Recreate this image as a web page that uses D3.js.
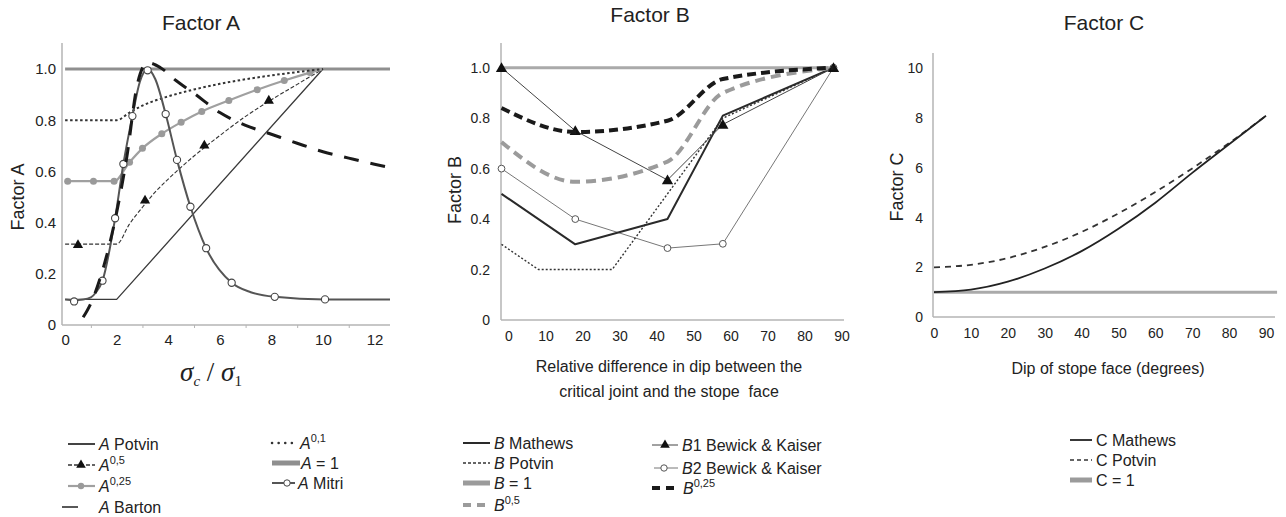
<!DOCTYPE html>
<html><head><meta charset="utf-8">
<script src="https://cdn.jsdelivr.net/npm/d3@7"></script>
<style>
body{margin:0;background:#fff;}
text{font-family:"Liberation Sans",Arial,sans-serif;fill:#222;}
</style></head>
<body>
<script>
// ---------------- DATA ----------------
// Panel A
const aTicks = [0, 2, 4, 6, 8, 10, 12];
const aMinorTicks = [1, 3, 5, 7, 9, 11];
const aYTicks = [0, 0.2, 0.4, 0.6, 0.8, 1.0];
const aPotvinX = [0, 2, 10];
const aPotvinY = [0.1, 0.1, 1.0];
const aPow05X = [0, 2, 2.5, 3, 3.5, 4, 5, 6, 7, 8, 9, 10];
const aPow05Y = [0.316, 0.316, 0.395, 0.46, 0.52, 0.57, 0.66, 0.74, 0.815, 0.88, 0.94, 1.0];
const aPow05MarkX = [0.5, 3.1, 5.4, 7.9];
const aPow05MarkY = [0.316, 0.49, 0.705, 0.88];
const aPow025X = [0, 1.1, 1.9, 2.5, 3.0, 3.75, 4.5, 5.3, 6.35, 7.45, 8.5, 9.5, 10];
const aPow025Y = [0.562, 0.562, 0.562, 0.636, 0.69, 0.747, 0.792, 0.834, 0.877, 0.919, 0.955, 0.986, 1.0];
const aPow025MarkX = [0.1, 1.1, 1.9, 2.5, 3.0, 3.75, 4.5, 5.3, 6.35, 7.45, 8.5, 9.5];
const aPow01X = [0, 2, 2.5, 3, 4, 5, 6, 7, 8, 9, 10];
const aPow01Y = [0.8, 0.8, 0.83, 0.857, 0.893, 0.92, 0.942, 0.96, 0.975, 0.988, 1.0];
const aOneX = [0, 12.6];
const aOneY = [1.0, 1.0];
const aMitriX = [0, 0.35, 0.7, 1.0, 1.2, 1.45, 1.94, 2.26, 2.61, 2.9, 3.2, 3.5, 3.9, 4.34, 4.86, 5.47, 6.46, 7.2, 8.13, 10.08, 12.6];
const aMitriY = [0.1, 0.098, 0.1, 0.108, 0.128, 0.173, 0.417, 0.629, 0.816, 0.95, 1.0, 0.96, 0.824, 0.645, 0.462, 0.30, 0.165, 0.128, 0.11, 0.1, 0.1];
const aMitriMarkX = [0.35, 1.45, 1.94, 2.26, 2.61, 3.2, 3.9, 4.34, 4.86, 5.47, 6.46, 8.13, 10.08];
const aMitriMarkY = [0.092, 0.173, 0.417, 0.629, 0.816, 0.995, 0.824, 0.645, 0.462, 0.30, 0.165, 0.11, 0.1];
const aBartonX = [0.7, 1.0, 1.5, 2.0, 2.4, 2.8, 3.2, 3.7, 4.3, 5.0, 6.0, 7.0, 8.0, 9.0, 10, 11, 12, 12.6];
const aBartonY = [0.03, 0.085, 0.23, 0.44, 0.66, 0.94, 1.025, 1.005, 0.955, 0.905, 0.83, 0.78, 0.745, 0.71, 0.677, 0.652, 0.628, 0.615];

// Panel B
const bXTicks = [0, 10, 20, 30, 40, 50, 60, 70, 80, 90];
const bYTicks = [0, 0.2, 0.4, 0.6, 0.8, 1.0];
const bMathewsX = [0, 20, 45, 60, 90];
const bMathewsY = [0.5, 0.3, 0.4, 0.81, 1.0];
const bPotvinX = [0, 10, 30, 60, 90];
const bPotvinY = [0.3, 0.2, 0.2, 0.8, 1.0];
const bOneX = [0, 90];
const bOneY = [1.0, 1.0];
const bB1X = [0, 20, 45, 60, 90];
const bB1Y = [1.0, 0.75, 0.555, 0.775, 1.0];
const bB2X = [0, 20, 45, 60, 90];
const bB2Y = [0.6, 0.4, 0.285, 0.302, 1.0];
const bPow05X = [0, 20, 45, 60, 90];
const bPow05Y = [0.705, 0.548, 0.628, 0.9, 1.0];
const bPow025X = [0, 20, 45, 60, 90];
const bPow025Y = [0.84, 0.745, 0.79, 0.955, 1.0];

// Panel C
const cXTicks = [0, 10, 20, 30, 40, 50, 60, 70, 80, 90];
const cYTicks = [0, 2, 4, 6, 8, 10];
const cDipX = [0, 10, 20, 30, 40, 50, 60, 70, 80, 90];
const cMathewsY = [1.0, 1.1, 1.42, 1.95, 2.65, 3.55, 4.6, 5.8, 6.95, 8.1];
const cPotvinY = [2.0, 2.1, 2.37, 2.82, 3.42, 4.17, 5.03, 5.98, 7.0, 8.1];
const cOneX = [0, 93];
const cOneY = [1.0, 1.0];

// ---------------- DRAW ----------------
const svg = d3.select("body").append("svg").attr("width", 1286).attr("height", 517);
const axisGray = "#b5b5b5";

function pts(xs, ys) { return xs.map((x, i) => [x, ys[i]]); }

function line(g, xs, ys, sx, sy, st, curve) {
  const gen = d3.line().x(d => sx(d[0])).y(d => sy(d[1]));
  if (curve) gen.curve(curve);
  g.append("path").attr("d", gen(pts(xs, ys)))
    .attr("fill", "none")
    .attr("stroke", st.color)
    .attr("stroke-width", st.width)
    .attr("stroke-dasharray", st.dash || null)
    .attr("stroke-linecap", st.cap || "butt")
    .attr("stroke-linejoin", "round");
}
function circles(g, xs, ys, sx, sy, r, fill, stroke, sw) {
  g.selectAll(null).data(pts(xs, ys)).enter().append("circle")
    .attr("cx", d => sx(d[0])).attr("cy", d => sy(d[1])).attr("r", r)
    .attr("fill", fill).attr("stroke", stroke).attr("stroke-width", sw || 1);
}
function triangles(g, xs, ys, sx, sy, size, fill) {
  const sym = d3.symbol().type(d3.symbolTriangle).size(size);
  g.selectAll(null).data(pts(xs, ys)).enter().append("path")
    .attr("d", sym).attr("transform", d => `translate(${sx(d[0])},${sy(d[1]) + 1})`)
    .attr("fill", fill);
}
function frame(g, sx0, sx1, sy0, sy1, xAt, yAt) {
  g.append("line").attr("x1", xAt).attr("x2", xAt).attr("y1", sy0).attr("y2", sy1)
    .attr("stroke", axisGray).attr("stroke-width", 1.5);
  g.append("line").attr("x1", sx0).attr("x2", sx1).attr("y1", yAt).attr("y2", yAt)
    .attr("stroke", axisGray).attr("stroke-width", 1.5);
}
function styleAxis(sel, size) {
  sel.select(".domain").remove();
  sel.selectAll("text").style("font-family", '"Liberation Sans",Arial,sans-serif')
    .style("font-size", size + "px").attr("fill", "#333");
}

// ===== Panel A =====
const gA = svg.append("g");
const xA = d3.scaleLinear().domain([-0.12, 12.6]).range([62, 390]);
const yA = d3.scaleLinear().domain([0, 1]).range([325, 69]);
frame(gA, 62, 390, 43, 325, 62, 325);
gA.append("g").attr("transform", "translate(62,0)")
  .call(d3.axisLeft(yA).tickValues(aYTicks).tickSize(0).tickPadding(6)
    .tickFormat(d => d === 0 ? "0" : d3.format(".1f")(d)))
  .call(s => styleAxis(s, 15));
gA.append("g").attr("transform", "translate(0,325)")
  .call(d3.axisBottom(xA).tickValues(aTicks).tickSize(0).tickPadding(9))
  .call(s => styleAxis(s, 15));
gA.append("g").attr("transform", "translate(0,325)")
  .call(d3.axisBottom(xA).tickValues(aMinorTicks).tickSize(3).tickFormat(""))
  .call(s => { s.select(".domain").remove(); s.selectAll("line").attr("stroke", axisGray); });

line(gA, aOneX, aOneY, xA, yA, {color: "#8f8f8f", width: 3});
line(gA, aPotvinX, aPotvinY, xA, yA, {color: "#3a3a3a", width: 1.3});
line(gA, aPow05X, aPow05Y, xA, yA, {color: "#333", width: 1.1, dash: "4,2"}, d3.curveMonotoneX);
triangles(gA, aPow05MarkX, aPow05MarkY, xA, yA, 45, "#111");
line(gA, aPow025X, aPow025Y, xA, yA, {color: "#a0a0a0", width: 2.2}, d3.curveMonotoneX);
circles(gA, aPow025MarkX, aPow025Y.slice(0, aPow025MarkX.length), xA, yA, 3.5, "#9a9a9a", "none");
line(gA, aPow01X, aPow01Y, xA, yA, {color: "#333", width: 2, dash: "2.5,2.5"}, d3.curveMonotoneX);
line(gA, aMitriX, aMitriY, xA, yA, {color: "#555", width: 2}, d3.curveMonotoneX);
circles(gA, aMitriMarkX, aMitriMarkY, xA, yA, 3.6, "#fff", "#444", 1.1);
line(gA, aBartonX, aBartonY, xA, yA, {color: "#1a1a1a", width: 3, dash: "15,12"}, d3.curveMonotoneX);

gA.append("text").attr("x", 201).attr("y", 30).attr("text-anchor", "middle")
  .style("font-size", "21px").text("Factor A");
gA.append("text").attr("transform", "translate(24,197) rotate(-90)").attr("text-anchor", "middle")
  .style("font-size", "18px").text("Factor A");
const xl = gA.append("text").attr("x", 211).attr("y", 381).attr("text-anchor", "middle")
  .style("font-family", '"Liberation Serif","Times New Roman",serif').style("font-size", "27px").style("fill", "#222")
  .style("white-space", "pre");
xl.append("tspan").style("font-style", "italic").text("σ");
xl.append("tspan").style("font-style", "italic").style("font-size", "15px").attr("dy", 5).text("c");
xl.append("tspan").attr("dy", -5).text(" / ");
xl.append("tspan").style("font-style", "italic").text("σ");
xl.append("tspan").style("font-size", "15px").attr("dy", 5).text("1");

// ===== Panel B =====
const gB = svg.append("g");
const xB = d3.scaleLinear().domain([0, 90]).range([501.5, 833.5]);
const xBLab = d3.scaleLinear().domain([0, 90]).range([508.5, 841.5]);
const yB = d3.scaleLinear().domain([0, 1]).range([320, 67.7]);
frame(gB, 501, 844, 43, 320, 501, 320);
gB.append("g").attr("transform", "translate(501,0)")
  .call(d3.axisLeft(yB).tickValues(bYTicks).tickSize(0).tickPadding(11)
    .tickFormat(d => d === 0 ? "0" : d3.format(".1f")(d)))
  .call(s => styleAxis(s, 14));
gB.append("g").attr("transform", "translate(0,320)")
  .call(d3.axisBottom(xBLab).tickValues(bXTicks).tickSize(0).tickPadding(11))
  .call(s => styleAxis(s, 14));

line(gB, bOneX, bOneY, xB, yB, {color: "#aaaaaa", width: 3});
line(gB, bB2X, bB2Y, xB, yB, {color: "#777", width: 1});
circles(gB, bB2X, bB2Y, xB, yB, 3.4, "#fff", "#555", 1);
line(gB, bPotvinX, bPotvinY, xB, yB, {color: "#333", width: 1.4, dash: "2,2"});
line(gB, bMathewsX, bMathewsY, xB, yB, {color: "#2a2a2a", width: 2});
line(gB, bB1X, bB1Y, xB, yB, {color: "#444", width: 1});
triangles(gB, bB1X, bB1Y, xB, yB, 55, "#111");
line(gB, bPow05X, bPow05Y, xB, yB, {color: "#9b9b9b", width: 4, dash: "10,6"}, d3.curveMonotoneX);
line(gB, bPow025X, bPow025Y, xB, yB, {color: "#1a1a1a", width: 4, dash: "9,5"}, d3.curveMonotoneX);

gB.append("text").attr("x", 650).attr("y", 22).attr("text-anchor", "middle")
  .style("font-size", "21px").text("Factor B");
gB.append("text").attr("transform", "translate(461,190) rotate(-90)").attr("text-anchor", "middle")
  .style("font-size", "18px").text("Factor B");
gB.append("text").attr("x", 669).attr("y", 372).attr("text-anchor", "middle")
  .style("font-size", "16px").text("Relative difference in dip between the");
gB.append("text").attr("x", 669).attr("y", 397).attr("text-anchor", "middle")
  .style("font-size", "16px").style("white-space", "pre").text("critical joint and the stope  face");

// ===== Panel C =====
const gC = svg.append("g");
const xC = d3.scaleLinear().domain([0, 90]).range([934, 1266]);
const yC = d3.scaleLinear().domain([0, 10]).range([317, 68.5]);
frame(gC, 933, 1275, 53, 317, 933, 317);
gC.append("g").attr("transform", "translate(933,0)")
  .call(d3.axisLeft(yC).tickValues(cYTicks).tickSize(0).tickPadding(10))
  .call(s => styleAxis(s, 14));
gC.append("g").attr("transform", "translate(0,317)")
  .call(d3.axisBottom(xC).tickValues(cXTicks).tickSize(0).tickPadding(11))
  .call(s => styleAxis(s, 14));

line(gC, cOneX, cOneY, xC, yC, {color: "#aaaaaa", width: 3});
line(gC, cDipX, cPotvinY, xC, yC, {color: "#333", width: 1.8, dash: "6,5"}, d3.curveMonotoneX);
line(gC, cDipX, cMathewsY, xC, yC, {color: "#222", width: 1.8}, d3.curveMonotoneX);

gC.append("text").attr("x", 1104).attr("y", 30).attr("text-anchor", "middle")
  .style("font-size", "21px").text("Factor C");
gC.append("text").attr("transform", "translate(903,187) rotate(-90)").attr("text-anchor", "middle")
  .style("font-size", "18px").text("Factor C");
gC.append("text").attr("x", 1108).attr("y", 374).attr("text-anchor", "middle")
  .style("font-size", "16px").text("Dip of stope face (degrees)");

// ===== Legends =====
const lg = svg.append("g");
function lgLine(x1, x2, y, st) {
  lg.append("line").attr("x1", x1).attr("x2", x2).attr("y1", y).attr("y2", y)
    .attr("stroke", st.color).attr("stroke-width", st.width)
    .attr("stroke-dasharray", st.dash || null).attr("stroke-linecap", st.cap || "butt");
}
function lgText(x, y, ital, rest, sup, italic) {
  const t = lg.append("text").attr("x", x).attr("y", y + 5.5).style("font-size", "16px");
  t.append("tspan").style("font-style", italic === false ? "normal" : "italic").text(ital);
  if (rest) t.append("tspan").text(rest);
  if (sup) t.append("tspan").attr("dy", -7).style("font-size", "11px").text(sup);
}
function lgTri(x, y) {
  lg.append("path").attr("d", d3.symbol().type(d3.symbolTriangle).size(40)())
    .attr("transform", `translate(${x},${y})`).attr("fill", "#111");
}
function lgCirc(x, y, fill, stroke) {
  lg.append("circle").attr("cx", x).attr("cy", y).attr("r", 3.2).attr("fill", fill).attr("stroke", stroke);
}
// A col 1
lgLine(68, 95, 444, {color: "#444", width: 2});
lgText(99, 444, "A", " Potvin");
lgLine(68, 95, 465, {color: "#333", width: 1.5, dash: "4,2"}); lgTri(81, 465);
lgText(99, 465, "A", "", "0,5");
lgLine(68, 95, 486, {color: "#a0a0a0", width: 2.2}); lgCirc(81, 486, "#9a9a9a", "none");
lgText(99, 486, "A", "", "0,25");
lgLine(62, 78, 507, {color: "#222", width: 1.5});
lgText(99, 507, "A", " Barton");
// A col 2
lgLine(272, 298, 443, {color: "#333", width: 2.5, dash: "0.1,6.5", cap: "round"});
lgText(300, 443, "A", "", "0,1");
lgLine(272, 300, 463, {color: "#8f8f8f", width: 5});
lgText(301, 463, "A", " = 1");
lgLine(272, 295, 483, {color: "#555", width: 2}); lgCirc(287, 483, "#fff", "#444");
lgText(298, 483, "A", " Mitri");
// B col 1
lgLine(463, 490, 443, {color: "#2a2a2a", width: 2});
lgText(494, 443, "B", " Mathews");
lgLine(463, 490, 463, {color: "#333", width: 1.4, dash: "3,2"});
lgText(494, 463, "B", " Potvin");
lgLine(463, 490, 483, {color: "#9b9b9b", width: 5});
lgText(494, 483, "B", " = 1");
lgLine(463, 487, 505, {color: "#9b9b9b", width: 4, dash: "8,6"});
lgText(494, 505, "B", "", "0,5");
// B col 2
lgLine(652, 678, 445, {color: "#444", width: 1}); lgTri(665, 445);
lgText(682, 445, "B", "1 Bewick & Kaiser");
lgLine(654, 678, 468, {color: "#777", width: 1}); lgCirc(664, 468, "#fff", "#555");
lgText(682, 468, "B", "2 Bewick & Kaiser");
lgLine(652, 677, 488, {color: "#1a1a1a", width: 4, dash: "8,6"});
lgText(683, 488, "B", "", "0,25");
// C
lgLine(1070, 1092, 440, {color: "#222", width: 1.8});
lgText(1096, 440, "C", " Mathews", null, false);
lgLine(1070, 1092, 460, {color: "#333", width: 1.5, dash: "4,3"});
lgText(1096, 460, "C", " Potvin", null, false);
lgLine(1070, 1092, 480, {color: "#9b9b9b", width: 5});
lgText(1096, 480, "C", " = 1", null, false);
</script>
</body></html>
